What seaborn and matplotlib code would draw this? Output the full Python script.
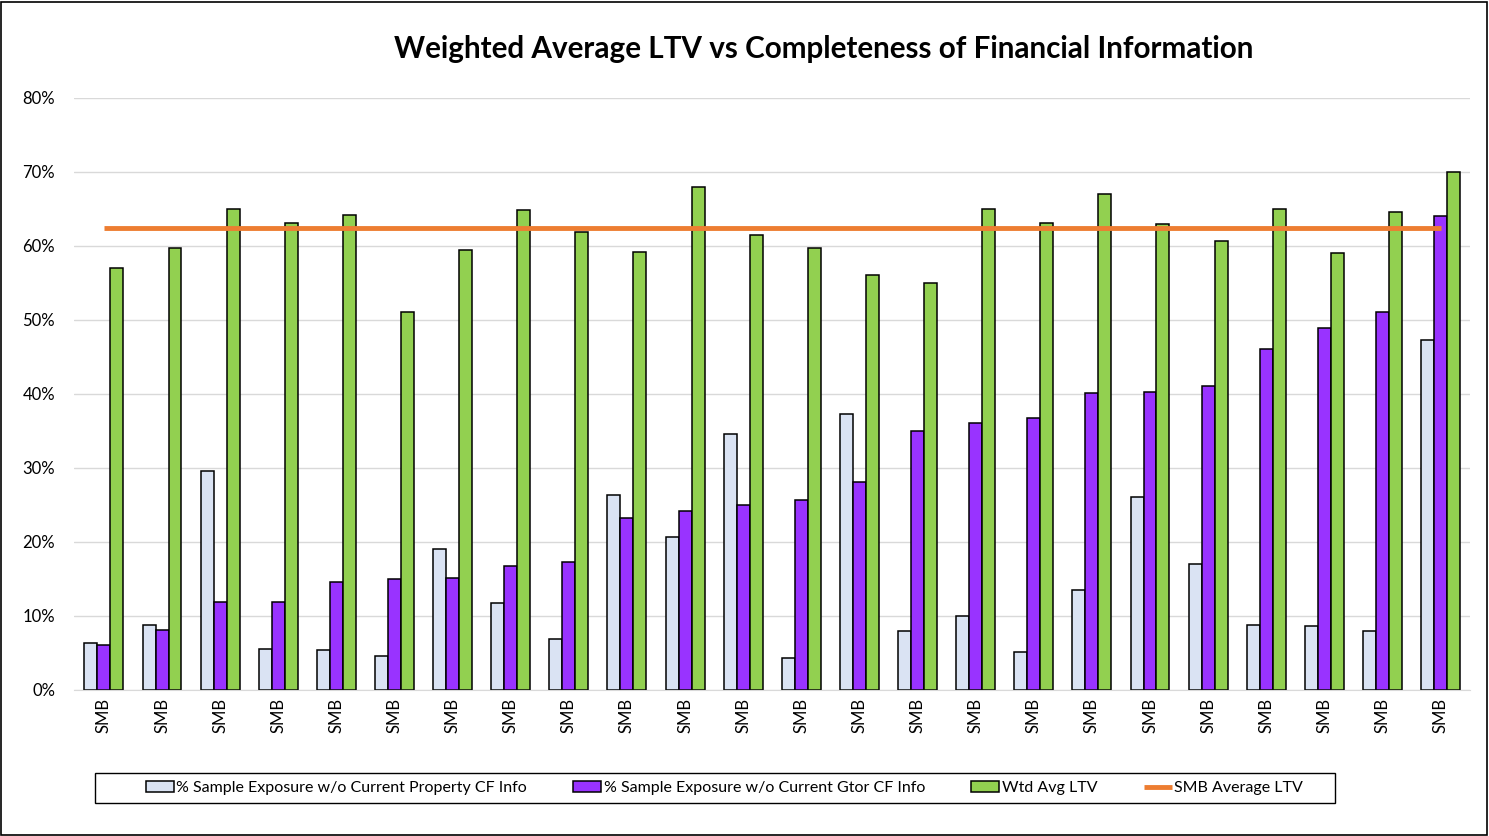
import pandas as pd
import numpy as np

import matplotlib.pyplot as plt
import seaborn as sns
from matplotlib.ticker import PercentFormatter

categories = ["SMB"] * 24

prop_cf = [6.3, 8.8, 29.6, 5.5, 5.4, 4.5, 19.0, 11.7, 6.9, 26.3, 20.6, 34.5,
           4.3, 37.3, 8.0, 9.9, 5.1, 13.5, 26.0, 17.0, 8.8, 8.6, 8.0, 47.2]
gtor_cf = [6.0, 8.1, 11.8, 11.8, 14.5, 14.9, 15.1, 16.7, 17.2, 23.2, 24.1, 25.0,
           25.7, 28.1, 35.0, 36.1, 36.7, 40.1, 40.2, 41.1, 46.1, 48.9, 51.1, 64.0]
wtd_ltv = [57.0, 59.7, 65.0, 63.1, 64.2, 51.0, 59.4, 64.9, 61.9, 59.1, 68.0, 61.4,
           59.7, 56.0, 55.0, 65.0, 63.1, 67.0, 63.0, 60.6, 65.0, 59.0, 64.6, 70.0]
smb_avg = 62.4

series_names = ["% Sample Exposure w/o Current Property CF Info",
                "% Sample Exposure w/o Current Gtor CF Info",
                "Wtd Avg LTV"]
colors = ["#DAE3F3", "#9933FF", "#92D050"]

df = pd.DataFrame({
    "idx": list(range(len(categories))) * 3,
    "series": np.repeat(series_names, len(categories)),
    "value": prop_cf + gtor_cf + wtd_ltv,
})

sns.set_style("white")
plt.rcParams["font.family"] = ["Lato", "DejaVu Sans"]
plt.rcParams["text.color"] = "black"
plt.rcParams["xtick.color"] = "black"
plt.rcParams["ytick.color"] = "black"

fig = plt.figure(figsize=(14.89, 8.36), dpi=100)
ax = fig.add_axes([0.05, 0.175, 0.937, 0.708])

sns.barplot(data=df, x="idx", y="value", hue="series", palette=colors,
            width=0.67, edgecolor="black", linewidth=1.1, saturation=1, ax=ax)

ax.plot(range(len(categories)), [smb_avg] * len(categories), color="#ED7D31",
        linewidth=3.5, label="SMB Average LTV", solid_capstyle="butt")

ax.set_ylim(0, 80)
ax.set_yticks(range(0, 81, 10))
ax.yaxis.set_major_formatter(PercentFormatter(decimals=0))
ax.set_xticks(range(len(categories)))
ax.set_xticklabels(categories, rotation=90, fontsize=12)
ax.tick_params(axis="y", labelsize=12, length=0, pad=14)
ax.tick_params(axis="x", length=0, pad=6)
ax.set_xlabel("")
ax.set_ylabel("")
ax.set_xlim(-0.507, len(categories) - 0.5)
ax.grid(axis="y", color="#D9D9D9", linewidth=1)
ax.set_axisbelow(True)
for s in ["top", "right", "left"]:
    ax.spines[s].set_visible(False)
ax.spines["bottom"].set_color("#D9D9D9")

fig.suptitle("Weighted Average LTV vs Completeness of Financial Information",
             fontsize=21.3, fontweight="bold", x=0.553, y=0.958, color="black")

handles, labels = ax.get_legend_handles_labels()
ax.get_legend().remove()
leg = fig.legend(handles, labels, loc="center", bbox_to_anchor=(0.4865, 0.0574),
                 ncol=4, fontsize=11.5, frameon=False,
                 handlelength=1.75, handletextpad=0.15, columnspacing=2.9)

# legend box, drawn as its own rectangle
fig.patches.append(plt.Rectangle((95 / 1489, 1 - 803 / 836), 1240 / 1489, 30 / 836,
                                 transform=fig.transFigure, fill=False,
                                 edgecolor="black", linewidth=1))
fig.patches.append(plt.Rectangle((0.0008, 0.001), 0.998, 0.997, transform=fig.transFigure,
                                 fill=False, edgecolor="black", linewidth=1.2))

fig.savefig("out.png", dpi=100)
